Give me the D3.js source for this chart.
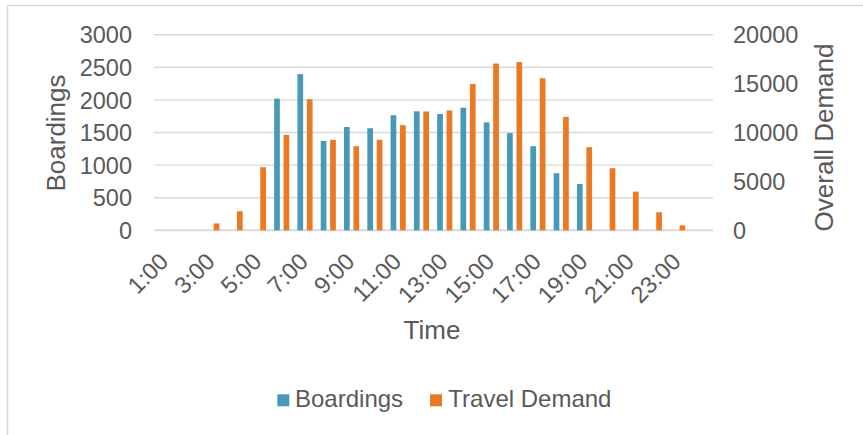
<!DOCTYPE html>
<html>
<head>
<meta charset="utf-8">
<script src="https://cdn.jsdelivr.net/npm/d3@7"></script>
<style>
  html, body { margin: 0; padding: 0; background: #fff; }
  svg { display: block; font-family: "Liberation Sans", Arial, sans-serif; }
</style>
</head>
<body>
<svg id="chart" width="863" height="435"></svg>
<script>
// Hourly categories
const hours = ["1:00","2:00","3:00","4:00","5:00","6:00","7:00","8:00","9:00","10:00","11:00","12:00",
               "13:00","14:00","15:00","16:00","17:00","18:00","19:00","20:00","21:00","22:00","23:00","24:00"];
// Boardings per hour (left axis)
const boardings = [0,0,0,0,0,2020,2395,1370,1585,1565,1765,1825,1785,1880,1655,1490,1290,875,710,0,0,0,0,0];
// Overall travel demand per hour (right axis)
const travelDemand = [0,0,700,1950,6450,9750,13400,9250,8600,9250,10750,12150,12250,14950,17050,17200,15550,11600,8500,6350,3950,1850,500,0];
// Axis ticks
const leftTicks = [0,500,1000,1500,2000,2500,3000];
const rightTicks = [0,5000,10000,15000,20000];
const shownHours = hours.filter((d, i) => i % 2 === 0);
const seriesNames = ["Boardings", "Travel Demand"];
const colors = {"Boardings": "#4899b8", "Travel Demand": "#e97a23"};

const svg = d3.select("#chart");
const textColor = "#595959";
const gridColor = "#d9d9d9";
const font = '"Liberation Sans", Arial, sans-serif';

// Chart frame
svg.append("rect").attr("x", 7.5).attr("y", 5.5).attr("width", 900).attr("height", 500)
  .attr("fill", "none").attr("stroke", gridColor).attr("stroke-width", 1.5);

const plot = {left: 154, right: 713, top: 34.7, bottom: 230.3};

const x = d3.scaleBand().domain(hours).range([plot.left, plot.right]).padding(0);
const yL = d3.scaleLinear().domain([0, 3000]).range([plot.bottom, plot.top]);
const yR = d3.scaleLinear().domain([0, 20000]).range([plot.bottom, plot.top]);

// Gridlines
svg.append("g").selectAll("line").data(leftTicks).join("line")
  .attr("x1", plot.left).attr("x2", plot.right)
  .attr("y1", d => yL(d)).attr("y2", d => yL(d))
  .attr("stroke", gridColor).attr("stroke-width", d => d === 0 ? 2 : 1.4);

// Bars
const bw = x.bandwidth() * 0.245;
const gap = x.bandwidth() * 0.16;
const cx = d => x(d) + x.bandwidth() / 2 - 0.4;

svg.append("g").selectAll("rect").data(hours.map((h, i) => ({h, v: boardings[i]})).filter(d => d.v > 0))
  .join("rect")
  .attr("x", d => cx(d.h) - gap / 2 - bw).attr("width", bw)
  .attr("y", d => yL(d.v)).attr("height", d => yL(0) - yL(d.v))
  .attr("fill", colors["Boardings"]);

svg.append("g").selectAll("rect").data(hours.map((h, i) => ({h, v: travelDemand[i]})).filter(d => d.v > 0))
  .join("rect")
  .attr("x", d => cx(d.h) + gap / 2).attr("width", bw)
  .attr("y", d => yR(d.v)).attr("height", d => yR(0) - yR(d.v))
  .attr("fill", colors["Travel Demand"]);

// Left axis labels
const axisL = d3.axisLeft(yL).tickValues(leftTicks).tickSize(0).tickPadding(0).tickFormat(d3.format("d"));
const gL = svg.append("g").attr("transform", "translate(132,0)").call(axisL);
gL.select(".domain").remove();
gL.selectAll("text").attr("font-size", 23.5).attr("fill", textColor)
  .attr("font-family", font).attr("dy", "0.35em");

// Right axis labels
const axisR = d3.axisRight(yR).tickValues(rightTicks).tickSize(0).tickPadding(0).tickFormat(d3.format("d"));
const gR = svg.append("g").attr("transform", "translate(733,0)").call(axisR);
gR.select(".domain").remove();
gR.selectAll("text").attr("font-size", 23.5).attr("fill", textColor)
  .attr("font-family", font).attr("dy", "0.35em");

// Category labels, rotated
const axisX = d3.axisBottom(x).tickValues(shownHours).tickSize(0).tickPadding(0);
const gX = svg.append("g").call(axisX);
gX.select(".domain").remove();
gX.selectAll(".tick").attr("transform", d => `translate(${cx(d) + 4.5},263)`);
gX.selectAll("text").attr("font-size", 23.5).attr("fill", textColor)
  .attr("font-family", font)
  .attr("y", 0).attr("dy", 0).attr("text-anchor", "end").attr("transform", "rotate(-45)");

// Axis titles
svg.append("text").attr("transform", "translate(65,133) rotate(-90)")
  .attr("text-anchor", "middle").attr("font-size", 26).attr("fill", textColor).text("Boardings");
svg.append("text").attr("transform", "translate(833,137.5) rotate(-90)")
  .attr("text-anchor", "middle").attr("font-size", 26).attr("fill", textColor).text("Overall Demand");
svg.append("text").attr("x", 432).attr("y", 339)
  .attr("text-anchor", "middle").attr("font-size", 26).attr("fill", textColor).text("Time");

// Legend
const legendPos = [{name: seriesNames[0], sx: 277.3, tx: 295}, {name: seriesNames[1], sx: 430, tx: 448.3}];
const lg = svg.append("g").selectAll("g").data(legendPos).join("g");
lg.append("rect").attr("x", d => d.sx).attr("y", 394.3).attr("width", 12).attr("height", 12)
  .attr("fill", d => colors[d.name]);
lg.append("text").attr("x", d => d.tx).attr("y", 406.5).attr("font-size", 24).attr("fill", textColor)
  .text(d => d.name);
</script>
</body>
</html>
